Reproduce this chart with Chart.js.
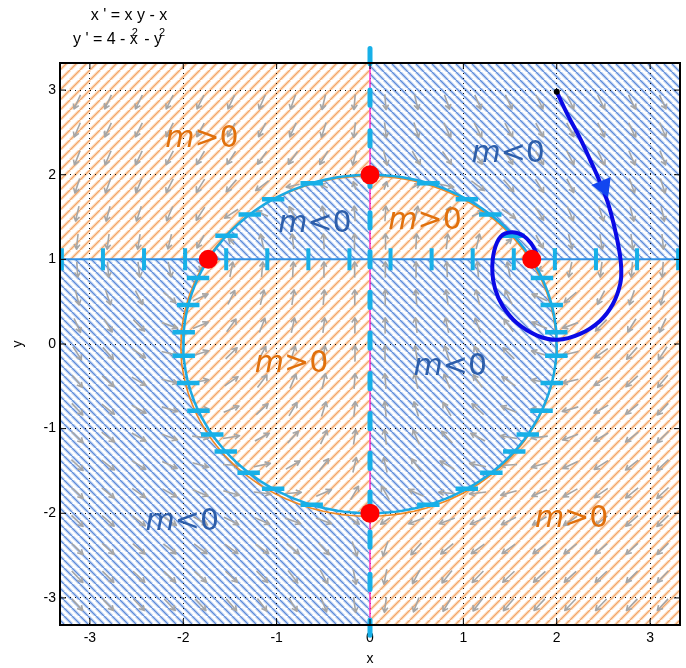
<!DOCTYPE html>
<html>
<head>
<meta charset="utf-8">
<script src="https://cdn.jsdelivr.net/npm/chart.js@4/dist/chart.umd.min.js"></script>
<style>
  html, body { margin: 0; padding: 0; background: #fff; }
  #wrap { width: 686px; height: 668px; }
</style>
</head>
<body>
<div id="wrap"><canvas id="grafica" width="686" height="668"></canvas></div>
<script>
/* ── Datos ── */
const ejeMin = -3.32, ejeMax = 3.32;
const marcasEje = [-3, -2, -1, 0, 1, 2, 3];

// rejilla del campo de direcciones (centros de las flechas)
const campoX = [-3.135, -2.805, -2.475, -2.145, -1.815, -1.485, -1.155, -0.825, -0.495, -0.165,
                 0.165,  0.495,  0.825,  1.155,  1.485,  1.815,  2.145,  2.475,  2.805,  3.135];
const campoY = [-3.08, -2.75, -2.42, -2.09, -1.76, -1.43, -1.10, -0.77, -0.44, -0.11,
                 0.22,  0.55,  0.88,  1.21,  1.54,  1.87,  2.20,  2.53,  2.86];

// puntos de equilibrio
const equiX = [0, 0, -1.732, 1.732];
const equiY = [2, -2, 1, 1];

// nulclina y = 1 : marcas verticales
const marcasY1 = [-3.30, -2.86, -2.42, -1.98, -1.54, -1.10, -0.66, -0.22,
                   0.22,  0.66,  1.10,  1.54,  1.98,  2.42,  2.86,  3.30];
// nulclina x = 0 : trazos verticales (centros en y)
const trazosX0 = [3.40, 2.91, 2.43, 1.95, 1.46, 1.00, 0.52, 0.04,
                  -0.44, -0.91, -1.38, -1.84, -2.31, -2.81, -3.35];
// nulclina x² + y² = 4 : alturas de las marcas horizontales
const radio = 2;
const marcasCirc = [1.90, 1.71, 1.53, 1.28, 0.78, 0.46, 0.14, -0.14, -0.46,
                    -0.79, -1.07, -1.27, -1.52, -1.71, -1.90];

// trayectoria desde (2, 3)
const trayX = [2.00, 2.12, 2.25, 2.36, 2.46, 2.55, 2.62, 2.67, 2.69, 2.68, 2.60, 2.46, 2.25,
               2.01, 1.79, 1.57, 1.42, 1.34, 1.31, 1.33, 1.40, 1.52, 1.64, 1.73, 1.78];
const trayY = [2.98, 2.70, 2.43, 2.17, 1.92, 1.66, 1.37, 1.10, 0.90, 0.71, 0.47, 0.27, 0.12,
               0.05, 0.10, 0.25, 0.45, 0.65, 0.86, 1.10, 1.27, 1.32, 1.28, 1.18, 1.08];
const puntaX = [2.50];
const puntaY = [1.86];

// etiquetas de signo de la pendiente
const etqX = [-1.80, 1.48, -0.59, 0.59, -0.84, 0.86, -2.01, 2.16];
const etqY = [2.42, 2.24, 1.42, 1.45, -0.24, -0.28, -2.11, -2.07];
const etqSigno = ['>', '<', '<', '>', '>', '<', '<', '>'];

/* ── Colores ── */
const C = {
  gris: '#a6a6a6',
  cian: '#17b0e8',
  azulY1: '#3090e4',
  magenta: '#ff2fc8',
  naranjaTxt: '#e0700c',
  azulTxt: '#2d5eaa',
  tray: '#0a0ae6',
  punta: '#1246f0',
};

/* ── Rayados ── */
const ctx = document.getElementById('grafica').getContext('2d');

function rayado(paso, halo, nucleo, haciaArriba) {
  const c = document.createElement('canvas');
  c.width = c.height = paso;
  const g = c.getContext('2d');
  g.fillStyle = '#fff';
  g.fillRect(0, 0, paso, paso);
  const trazar = (ancho, color) => {
    g.strokeStyle = color; g.lineWidth = ancho; g.beginPath();
    for (let k = -1; k <= 1; k++) {
      const o = k * paso;
      if (haciaArriba) { g.moveTo(o, paso); g.lineTo(o + paso, 0); }
      else { g.moveTo(o, 0); g.lineTo(o + paso, paso); }
    }
    g.stroke();
  };
  trazar(3.2, halo);
  trazar(1.2, nucleo);
  return ctx.createPattern(c, 'repeat');
}
const rayaNaranja = rayado(10, '#fde0c6', '#f3a466', true);
const rayaAzul = rayado(8, '#cbdcf5', '#5a88d8', false);

/* ── Construcción de series ── */
const hueco = x => ({ x, y: NaN });

function arco(a0, a1) {
  const pts = [], paso = a1 > a0 ? 2 : -2;
  for (let a = a0; paso > 0 ? a <= a1 : a >= a1; a += paso) {
    const r = a * Math.PI / 180;
    pts.push({ x: radio * Math.cos(r), y: radio * Math.sin(r) });
  }
  return pts;
}

// regiones m > 0
const regiones = [
  [{ x: -4, y: 1 }, ...arco(150, 90), { x: 0, y: 4 }, { x: -4, y: 4 }],
  [{ x: 0, y: 1 }, ...arco(30, 90)],
  [{ x: 0, y: 1 }, ...arco(150, 270)],
  [{ x: 4, y: 1 }, ...arco(30, -90), { x: 0, y: -4 }, { x: 4, y: -4 }],
];

function campoDirecciones() {
  const L = 0.18, H = 0.065, ang = 0.5;
  const pts = [];
  campoX.forEach(gx => campoY.forEach(gy => {
    const vx = gx * gy - gx;            // x' = x y - x
    const vy = 4 - gx * gx - gy * gy;   // y' = 4 - x² - y²
    const n = Math.hypot(vx, vy);
    if (!n) return;
    const l = L * Math.min(1, n / 0.9);
    const ux = vx / n, uy = vy / n;
    const x1 = gx + ux * l / 2, y1 = gy + uy * l / 2;
    const barba = s => {
      const c = Math.cos(ang), sn = Math.sin(ang) * s;
      return { x: x1 - H * (ux * c - uy * sn), y: y1 - H * (ux * sn + uy * c) };
    };
    pts.push({ x: gx - ux * l / 2, y: gy - uy * l / 2 }, { x: x1, y: y1 }, hueco(x1),
             barba(1), { x: x1, y: y1 }, barba(-1), hueco(x1));
  }));
  return pts;
}

const ptsMarcasCirc = [];
marcasCirc.forEach(yy => [-1, 1].forEach(s => {
  const xx = s * Math.sqrt(radio * radio - yy * yy);
  ptsMarcasCirc.push({ x: xx - 0.12, y: yy }, { x: xx + 0.12, y: yy }, hueco(xx));
}));

const ptsMarcasY1 = [];
marcasY1.forEach(xx => ptsMarcasY1.push({ x: xx, y: 1.13 }, { x: xx, y: 0.87 }, hueco(xx)));

const ptsTrazosX0 = [];
trazosX0.forEach(yy => ptsTrazosX0.push({ x: 0, y: yy + 0.09 }, { x: 0, y: yy - 0.09 }, hueco(0)));

const circulo = arco(0, 360);
const circuloNaranja = circulo.map(p => ({ x: p.x * 1.005 - 0.015, y: p.y * 1.005 - 0.025 }));

const base = { type: 'line', pointRadius: 0, tension: 0, fill: false };

/* ── Gráfica ── */
const grafica = new Chart(ctx, {
  data: {
    datasets: [
      { ...base, order: 0, showLine: false, data: equiX.map((x, i) => ({ x, y: equiY[i] })),
        pointRadius: 9.5, pointBackgroundColor: '#ff0000', pointBorderWidth: 0 },
      { ...base, order: 1, showLine: false, data: [{ x: trayX[0], y: trayY[0] }],
        pointRadius: 3, pointBackgroundColor: '#000', pointBorderWidth: 0 },
      { ...base, order: 1, showLine: false, data: puntaX.map((x, i) => ({ x, y: puntaY[i] })),
        pointStyle: 'triangle', pointRotation: 157, pointRadius: 12,
        pointBackgroundColor: C.punta, pointBorderWidth: 0 },
      { ...base, order: 2, data: trayX.map((x, i) => ({ x, y: trayY[i] })),
        borderColor: C.tray, borderWidth: 4, tension: 0.4, borderJoinStyle: 'round', borderCapStyle: 'round' },
      { ...base, order: 3, data: ptsMarcasCirc, borderColor: C.cian, borderWidth: 4.5 },
      { ...base, order: 4, data: circulo, borderColor: '#1aaae4', borderWidth: 2.5 },
      { ...base, order: 5, data: circuloNaranja, borderColor: '#f08a24', borderWidth: 1.6 },
      { ...base, order: 3, data: ptsTrazosX0, borderColor: C.cian, borderWidth: 5,
        borderCapStyle: 'round', clip: false },
      { ...base, order: 6, data: [{ x: 0, y: ejeMin }, { x: 0, y: ejeMax }],
        borderColor: C.magenta, borderWidth: 1.5 },
      { ...base, order: 3, data: ptsMarcasY1, borderColor: C.cian, borderWidth: 4 },
      { ...base, order: 6, data: [{ x: ejeMin, y: 1 }, { x: ejeMax, y: 1 }],
        borderColor: C.azulY1, borderWidth: 2 },
      { ...base, order: 7, data: campoDirecciones(), borderColor: C.gris, borderWidth: 1.6,
        borderJoinStyle: 'round' },
      ...regiones.map(r => ({ ...base, order: 29, data: r, fill: 'shape',
        backgroundColor: rayaNaranja, borderWidth: 0 })),
      { ...base, order: 30, fill: 'shape', backgroundColor: rayaAzul, borderWidth: 0,
        data: [{ x: -4, y: -4 }, { x: 4, y: -4 }, { x: 4, y: 4 }, { x: -4, y: 4 }] },
    ],
  },
  options: {
    responsive: false,
    animation: false,
    devicePixelRatio: 1,
    events: [],
    layout: { autoPadding: false, padding: { top: 63, right: 6, left: 0, bottom: 0 } },
    plugins: {
      legend: { display: false },
      tooltip: { enabled: false },
      filler: { drawTime: 'beforeDraw' },
    },
    scales: {
      x: {
        type: 'linear', min: ejeMin, max: ejeMax,
        afterBuildTicks: s => { s.ticks = marcasEje.map(v => ({ value: v })); },
        afterFit: s => { s.height = 43; s.paddingLeft = 0; s.paddingRight = 0; },
        grid: { color: '#111', lineWidth: 1, drawTicks: false },
        border: { display: false, dash: [1, 4] },
        ticks: { padding: 5, color: '#000', maxRotation: 0,
                 font: { family: 'Liberation Sans', size: 14 } },
        title: { display: true, text: 'x', color: '#000', padding: 0,
                 font: { family: 'Liberation Sans', size: 14 } },
      },
      y: {
        type: 'linear', min: ejeMin, max: ejeMax,
        afterBuildTicks: s => { s.ticks = marcasEje.map(v => ({ value: v })); },
        afterFit: s => { s.width = 60; s.paddingTop = 0; s.paddingBottom = 0; },
        grid: { color: '#111', lineWidth: 1, drawTicks: false },
        border: { display: false, dash: [1, 4] },
        ticks: { padding: 4, color: '#000',
                 font: { family: 'Liberation Sans', size: 14 } },
        title: { display: true, text: 'y', color: '#000', padding: { top: 10 },
                 font: { family: 'Liberation Sans', size: 14 } },
      },
    },
  },
  plugins: [{
    id: 'marco',
    afterDatasetsDraw(chart) {
      const { ctx: g, chartArea: a, scales: { x, y } } = chart;
      g.save();
      g.strokeStyle = '#000';
      g.lineWidth = 1;
      g.beginPath();
      marcasEje.forEach(v => {
        const px = x.getPixelForValue(v), py = y.getPixelForValue(v);
        g.moveTo(px, a.bottom); g.lineTo(px, a.bottom - 6);
        g.moveTo(px, a.top);    g.lineTo(px, a.top + 6);
        g.moveTo(a.left, py);   g.lineTo(a.left + 6, py);
        g.moveTo(a.right, py);  g.lineTo(a.right - 6, py);
      });
      g.stroke();
      g.lineWidth = 2;
      g.strokeRect(a.left, a.top, a.right - a.left, a.bottom - a.top);

      // etiquetas m>0 / m<0
      g.textBaseline = 'middle';
      etqX.forEach((ex, i) => {
        const signo = etqSigno[i];
        g.fillStyle = signo === '>' ? C.naranjaTxt : C.azulTxt;
        g.font = 'italic 30px "DejaVu Sans"';
        const wm = g.measureText('m').width;
        g.font = '30px "DejaVu Sans"';
        const resto = signo + '0';
        const wr = g.measureText(resto).width;
        const x0 = x.getPixelForValue(ex) - (wm + wr) / 2;
        const yc = y.getPixelForValue(etqY[i]);
        g.textAlign = 'left';
        g.font = 'italic 30px "DejaVu Sans"';
        g.fillText('m', x0, yc);
        g.font = '30px "DejaVu Sans"';
        g.fillText(resto, x0 + wm, yc);
      });
      g.restore();
    },
    afterDraw(chart) {
      const g = chart.ctx;
      g.save();
      g.fillStyle = '#000';
      g.textBaseline = 'alphabetic';
      g.font = '16px "Liberation Sans"';
      g.textAlign = 'center';
      g.fillText("x ' = x y - x", 129, 20);
      g.textAlign = 'left';
      let cx = 73;
      const t1 = "y ' = 4 - x";
      g.fillText(t1, cx, 44);
      cx += g.measureText(t1).width;
      g.font = '11px "Liberation Sans"';
      g.fillText('2', cx - 6, 36);
      g.font = '16px "Liberation Sans"';
      const t2 = ' - y';
      g.fillText(t2, cx + 2, 44);
      cx += 2 + g.measureText(t2).width;
      g.font = '11px "Liberation Sans"';
      g.fillText('2', cx - 3, 36);
      g.restore();
    },
  }],
});
</script>
</body>
</html>
